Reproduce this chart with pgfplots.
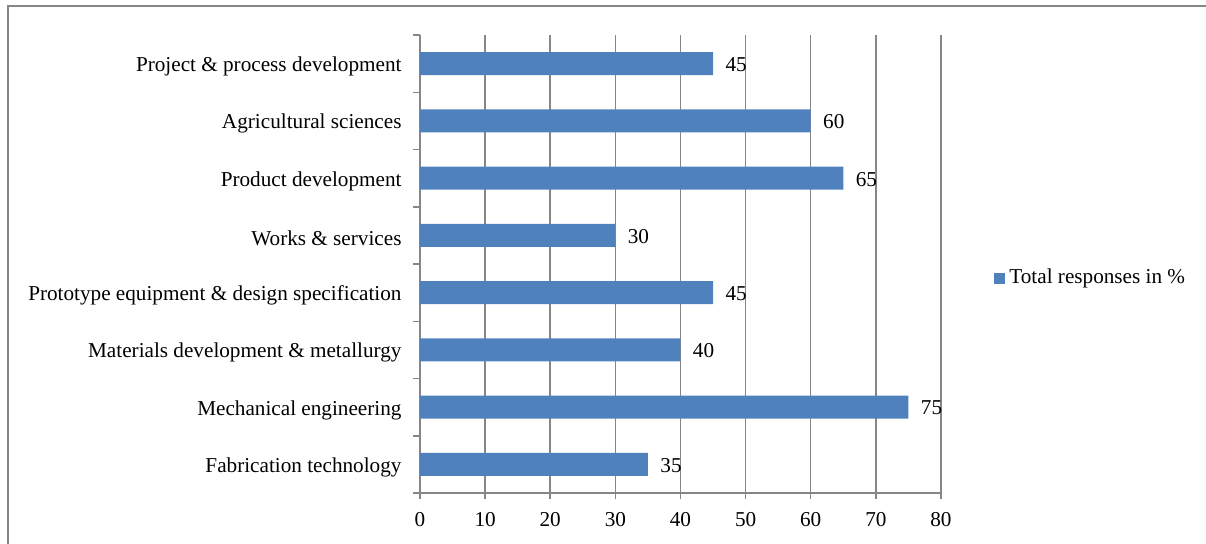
\documentclass[border=0pt]{standalone}
\usepackage{pgfplots}
\pgfplotsset{compat=1.18}
\usepackage{fontspec}
\setmainfont{Liberation Serif}
\definecolor{barblue}{RGB}{79,129,189}
\definecolor{gridgray}{RGB}{134,134,134}
\begin{document}
\fontsize{10.6pt}{12pt}\selectfont
\begin{tikzpicture}
\path[use as bounding box] (0,0) rectangle (603pt,-271.5pt);
\draw[gridgray, line width=1pt] (4pt,-300pt) -- (4pt,-3pt) -- (700pt,-3pt);
\begin{axis}[
  at={(210pt,-246.5pt)}, anchor=south west,
  scale only axis, width=260.5pt, height=229pt,
  xbar, xmin=0, xmax=80, ymin=-0.5, ymax=7.5,
  xtick={0,10,...,80},
  ytick={0,...,7},
  yticklabels={Fabrication technology, Mechanical engineering, Materials development \& metallurgy, Prototype equipment \& design specification, Works \& services, Product development, Agricultural sciences, Project \& process development},
  minor ytick={-0.5,0.5,...,7.5},
  axis x line*=bottom, axis y line*=left,
  axis line style={gridgray, line width=1pt, -},
  xmajorgrids, major grid style={gridgray, line width=0.75pt},
  tick align=outside, major tick length=3pt, minor tick length=3.5pt,
  tick style={gridgray, line width=0.75pt},
  major y tick style={draw=none},
  /pgf/number format/assume math mode=true,
  yticklabel style={xshift=-2.5pt, yshift=-1.5pt},
  xticklabel style={yshift=-3pt},
  bar width=11.5pt,
  nodes near coords,
  every node near coord/.append style={anchor=west, xshift=2.5pt, yshift=-0.5pt, black},
  legend entries={Total responses in \%},
  legend style={at={(1,0.5)}, anchor=west, xshift=23.5pt, yshift=-7pt, draw=none, fill=none},
  legend image code/.code={\fill[barblue] (0pt,-2.75pt) rectangle (5.5pt,2.75pt);},
]
\addplot[fill=barblue, draw=none] coordinates {(35,0) (75,1) (40,2) (45,3) (30,4) (65,5) (60,6) (45,7)};
\end{axis}
\end{tikzpicture}
\end{document}
